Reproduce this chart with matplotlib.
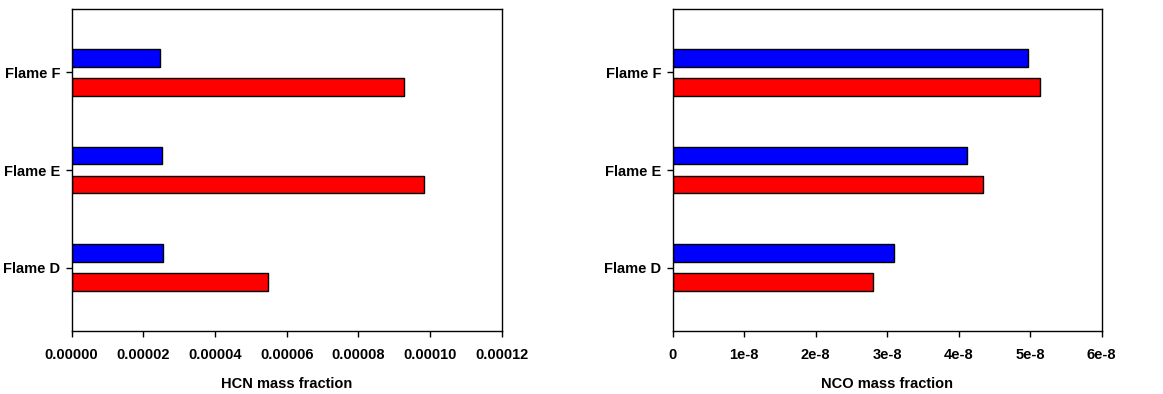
import matplotlib.pyplot as plt

flames = ["Flame D", "Flame E", "Flame F"]

# mass fractions per flame (D, E, F)
hcn_blue = [2.55e-5, 2.52e-5, 2.47e-5]
hcn_red = [5.48e-5, 9.84e-5, 9.27e-5]
nco_blue = [3.09e-8, 4.11e-8, 4.965e-8]
nco_red = [2.80e-8, 4.34e-8, 5.14e-8]

hcn_ticks = [0, 2e-5, 4e-5, 6e-5, 8e-5, 1e-4, 1.2e-4]
hcn_labels = ["0.00000", "0.00002", "0.00004", "0.00006", "0.00008", "0.00010", "0.00012"]
nco_ticks = [0, 1e-8, 2e-8, 3e-8, 4e-8, 5e-8, 6e-8]
nco_labels = ["0", "1e-8", "2e-8", "3e-8", "4e-8", "5e-8", "6e-8"]

plt.rcParams["font.family"] = ["Liberation Sans", "DejaVu Sans"]
plt.rcParams["font.weight"] = "bold"

fig = plt.figure(figsize=(11.63, 3.94), dpi=100)
ax1 = fig.add_axes([0.0615, 0.160, 0.370, 0.817])
ax2 = fig.add_axes([0.5784, 0.160, 0.3689, 0.817])

panels = [
    (ax1, hcn_blue, hcn_red, hcn_ticks, hcn_labels, "HCN mass fraction"),
    (ax2, nco_blue, nco_red, nco_ticks, nco_labels, "NCO mass fraction"),
]

pos = range(len(flames))
h = 0.18
off = 0.15

for ax, blue, red, ticks, labels, xlabel in panels:
    ax.barh([p + off for p in pos], blue, height=h, color="#0000ff",
            edgecolor="black", linewidth=1.0)
    ax.barh([p - off for p in pos], red, height=h, color="#ff0000",
            edgecolor="black", linewidth=1.0)
    ax.set_xlim(ticks[0], ticks[-1])
    ax.set_ylim(-0.65, 2.65)
    ax.set_xticks(ticks)
    ax.set_xticklabels(labels, fontsize=10.5, fontweight="bold")
    ax.set_yticks(list(pos))
    ax.set_yticklabels(flames, fontsize=10.5, fontweight="bold")
    ax.set_xlabel(xlabel, fontsize=10.5, fontweight="bold", labelpad=11)
    ax.tick_params(axis="x", length=4, width=1, direction="out", pad=8)
    ax.tick_params(axis="y", length=4, width=1, direction="out", pad=4)
    for s in ax.spines.values():
        s.set_linewidth(1.0)
        s.set_color("black")

fig.savefig("out.png", dpi=100)
